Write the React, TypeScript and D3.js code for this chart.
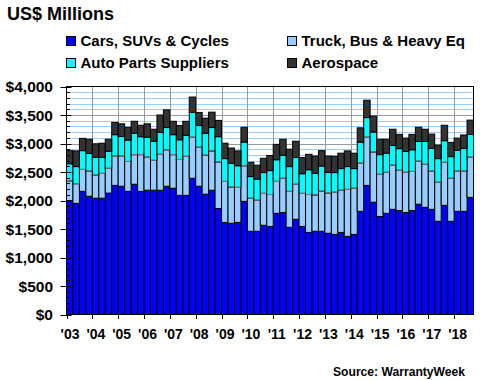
import React from "react";
import * as d3 from "d3";

const quarters: string[] = [];
for (let y = 2003; y <= 2018; y++) for (let q = 1; q <= 4; q++) if (!(y === 2018 && q === 4)) quarters.push(`${y}Q${q}`);

const cars = [2000,1950,2160,2075,2040,2040,2130,2265,2250,2160,2285,2160,2180,2180,2180,2250,2215,2090,2090,2390,2250,2110,2180,1860,1615,1600,1615,1985,1460,1460,1565,1545,1775,1790,1530,1670,1545,1440,1460,1460,1425,1405,1440,1370,1405,1810,2265,1970,1720,1775,1845,1825,1790,1825,1935,1880,1845,1635,1915,1635,1810,1810,2055];
const truck = [345,345,385,440,405,435,435,520,535,525,520,645,580,525,630,640,590,630,685,720,685,685,690,815,720,635,615,625,580,545,560,560,560,600,630,615,580,665,635,705,705,740,740,825,810,845,845,880,740,720,775,705,705,685,755,755,670,685,755,755,705,705,705];
const parts = [300,300,330,310,315,280,300,370,340,375,375,315,350,335,385,390,350,345,370,435,380,385,410,445,400,415,380,415,380,370,365,420,380,405,435,470,345,435,380,440,365,345,380,400,345,370,345,350,345,335,345,380,365,380,345,400,400,415,380,380,365,400,400];
const aero = [230,275,215,250,235,250,210,215,220,225,210,200,235,210,305,310,235,250,245,270,230,265,270,285,270,270,260,260,250,245,250,265,270,280,305,285,285,270,305,270,285,285,270,275,270,250,305,280,270,245,285,250,235,270,250,215,250,235,270,250,215,235,250];

const seriesNames = ["Cars, SUVs & Cycles", "Truck, Bus & Heavy Eq", "Auto Parts Suppliers", "Aerospace"];
const seriesColors = ["#0000FF", "#99CCFF", "#00FFFF", "#333333"];
const yearLabels = ["'03","'04","'05","'06","'07","'08","'09","'10","'11","'12","'13","'14","'15","'16","'17","'18"];
const yTicks = [0, 500, 1000, 1500, 2000, 2500, 3000, 3500, 4000];

const font = "'Liberation Sans', Arial, sans-serif";

export default function App() {
  const left = 66.5, right = 473.5, top = 86.5, bottom = 314.5;
  const x = d3.scaleBand<number>().domain(d3.range(quarters.length)).range([left, right]).paddingInner(0);
  const y = d3.scaleLinear().domain([0, 4000]).range([bottom, top]);
  const rows = quarters.map((q, i) => ({ q, cars: cars[i], truck: truck[i], parts: parts[i], aero: aero[i] }));
  const keys = ["cars", "truck", "parts", "aero"];
  const stacked = d3.stack<any>().keys(keys)(rows);
  const bw = x.bandwidth();
  const minor = d3.range(100, 4000, 100);
  const yearIdx = d3.range(0, 64, 4);

  return (
    <svg width={480} height={380} style={{ position: "absolute", left: 0, top: 0, background: "#fff" }} fontFamily={font}>
      <text x={7} y={19.5} fontSize={18} fontWeight="bold" fill="#000">US$ Millions</text>
      {seriesNames.map((n, i) => {
        const col = i % 2, row = Math.floor(i / 2);
        const sx = col === 0 ? 66.5 : 287.5;
        const sy = row === 0 ? 36.5 : 58.5;
        return (
          <g key={n}>
            <rect x={sx} y={sy} width={9} height={9} fill={seriesColors[i]} stroke="#000" strokeWidth={1} />
            <text x={sx + 14} y={sy + 9.5} fontSize={15} fontWeight="bold" fill="#000">{n}</text>
          </g>
        );
      })}
      {minor.map((v) => (
        <line key={"g" + v} x1={left} x2={right} y1={Math.round(y(v)) + 0.5} y2={Math.round(y(v)) + 0.5}
          stroke={v % 500 === 0 ? "#999999" : "#99CCFF"} strokeWidth={1} />
      ))}
      {yearIdx.slice(1).map((i) => (
        <line key={"v" + i} x1={Math.round(x(i)!) + 0.5} x2={Math.round(x(i)!) + 0.5} y1={top} y2={bottom} stroke="#999999" />
      ))}
      {stacked.map((s, si) => (
        <g key={s.key} fill={seriesColors[si]} stroke="#000" strokeWidth={1}>
          {s.map((d, i) => (
            <rect key={i} x={x(i)!} y={y(d[1])} width={bw} height={y(d[0]) - y(d[1])} />
          ))}
        </g>
      ))}
      {stacked[1].map((d, i) => (
        <line key={"gl" + i} x1={x(i)! + 0.5} x2={x(i)! + bw - 0.5} y1={y(d[1])} y2={y(d[1])} stroke="#808080" strokeWidth={1} />
      ))}
      <rect x={left} y={top} width={right - left} height={bottom - top} fill="none" stroke="#000" strokeWidth={1} />
      {minor.map((v) => (
        <line key={"mt" + v} x1={left} x2={left + 3.5} y1={Math.round(y(v)) + 0.5} y2={Math.round(y(v)) + 0.5} stroke="#000" />
      ))}
      {yTicks.map((v) => (
        <g key={"yt" + v}>
          <line x1={left - 6} x2={left + 5} y1={Math.round(y(v)) + 0.5} y2={Math.round(y(v)) + 0.5} stroke="#000" />
          <text x={53} y={y(v) + 5.5} fontSize={15.5} fontWeight="bold" textAnchor="end" fill="#000">
            {d3.format("$,")(v)}
          </text>
        </g>
      ))}
      {yearIdx.map((i, k) => (
        <g key={"xt" + i}>
          <line x1={Math.round(x(i)!) + 0.5} x2={Math.round(x(i)!) + 0.5} y1={bottom} y2={bottom + 4.5} stroke="#000" />
          <text x={x(i)! + 3.5} y={338.5} fontSize={14} fontWeight="bold" textAnchor="middle" fill="#000">{yearLabels[k]}</text>
        </g>
      ))}
      <text x={333} y={375.5} fontSize={12.5} fontWeight="bold" fill="#000" textLength={132} lengthAdjust="spacingAndGlyphs">Source: WarrantyWeek</text>
    </svg>
  );
}
